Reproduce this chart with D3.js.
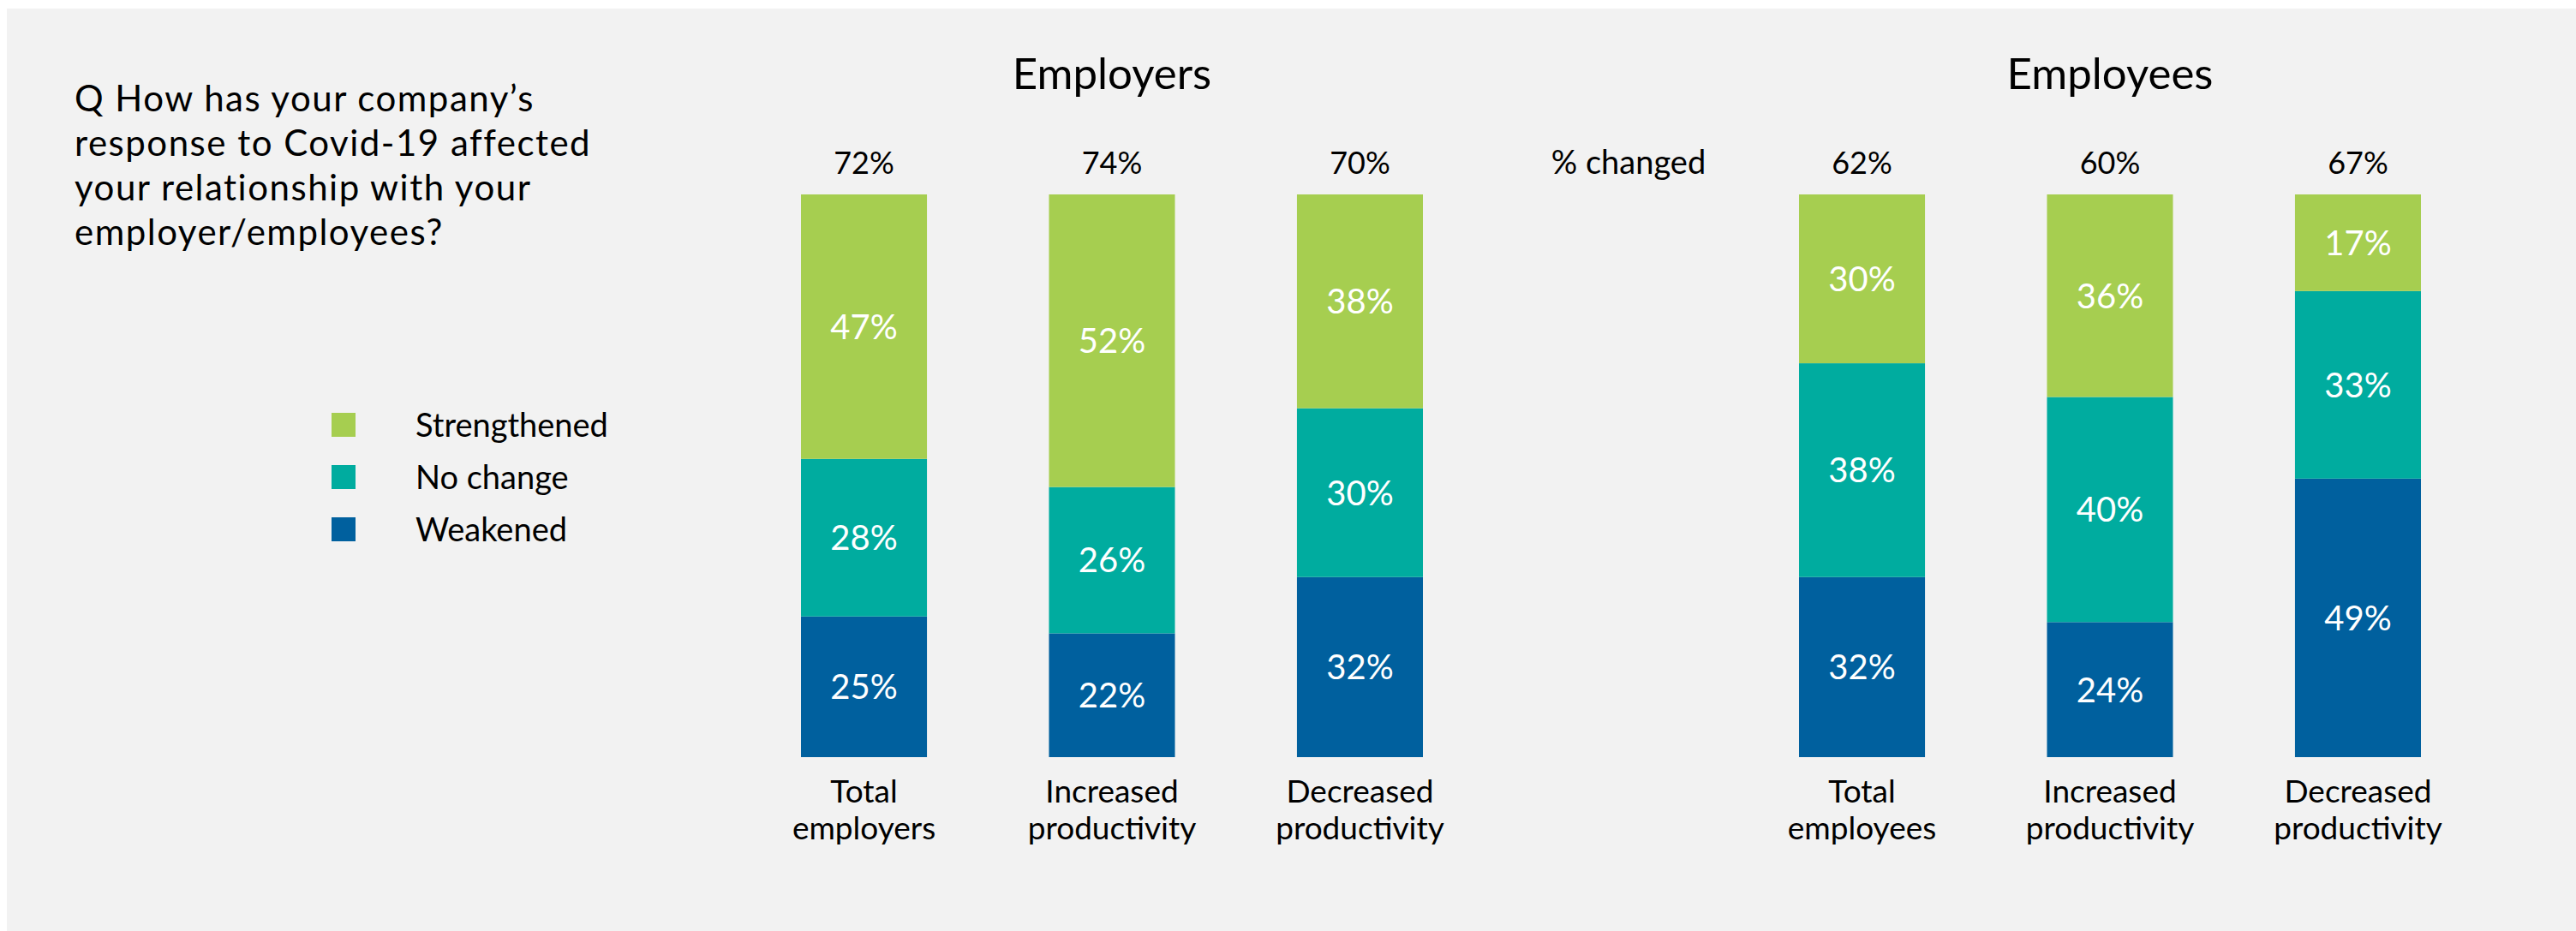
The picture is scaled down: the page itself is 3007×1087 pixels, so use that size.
<!DOCTYPE html>
<html>
<head>
<meta charset="utf-8">
<script src="https://cdn.jsdelivr.net/npm/d3@7"></script>
<style>
  html, body { margin: 0; padding: 0; background: #ffffff; }
  svg { display: block; }
  text { font-family: Lato, "Open Sans", sans-serif; fill: #000; }
</style>
</head>
<body>
<svg id="chart" width="3007" height="1087"></svg>
<script>
// ---- data ----
const questionLines = ["Q How has your company\u2019s", "response to Covid-19 affected", "your relationship with your", "employer/employees?"];
const seriesKeys = ["Weakened", "No change", "Strengthened"];           // stacked bottom -> top
const legendOrder = ["Strengthened", "No change", "Weakened"];
const seriesColors = ["#00609e", "#00ac9f", "#a6ce50"];

const employerCategories = [["Total", "employers"], ["Increased", "productivity"], ["Decreased", "productivity"]];
const employerStrengthened = [47, 52, 38];
const employerNoChange = [28, 26, 30];
const employerWeakened = [25, 22, 32];
const employerChanged = [72, 74, 70];

const employeeCategories = [["Total", "employees"], ["Increased", "productivity"], ["Decreased", "productivity"]];
const employeeStrengthened = [30, 36, 17];
const employeeNoChange = [38, 40, 33];
const employeeWeakened = [32, 24, 49];
const employeeChanged = [62, 60, 67];

const groupTitles = ["Employers", "Employees"];
const changedLabel = "% changed";

// ---- drawing ----
const svg = d3.select("#chart");
svg.append("rect").attr("x", 8).attr("y", 10).attr("width", 3007 - 8).attr("height", 1087 - 10).attr("fill", "#f2f2f2");

// question
const q = svg.append("text").attr("x", 87).attr("y", 130).style("font-size", "42px").style("letter-spacing", "1.5px");
questionLines.forEach((l, i) => q.append("tspan").attr("x", 87).attr("y", 130 + i * 52).text(l));

// legend
const color = d3.scaleOrdinal().domain(seriesKeys).range(seriesColors);
const leg = svg.append("g");
legendOrder.forEach((k, i) => {
  const y0 = 482 + i * 61;
  leg.append("rect").attr("x", 387).attr("y", y0).attr("width", 28).attr("height", 28).attr("fill", color(k));
  leg.append("text").attr("x", 485).attr("y", y0 + 28).style("font-size", "38px").text(k);
});

const y = d3.scaleLinear().domain([0, 1]).range([884, 227]);

function drawGroup(title, cats, strengthened, noChange, weakened, changed, x0, x1, showChangedLabel) {
  const rows = cats.map((c, i) => ({
    cat: c.join(" "), lines: c,
    "Strengthened": strengthened[i], "No change": noChange[i], "Weakened": weakened[i], changed: changed[i]
  }));
  const x = d3.scaleBand().domain(rows.map(r => r.cat)).range([x0, x1]).paddingInner(0.492).paddingOuter(0);
  const stacked = d3.stack().keys(seriesKeys).offset(d3.stackOffsetExpand)(rows);
  const g = svg.append("g");

  const layers = g.selectAll("g.layer").data(stacked).join("g").attr("fill", d => color(d.key));
  layers.selectAll("rect").data(d => d).join("rect")
    .attr("x", d => x(d.data.cat))
    .attr("width", x.bandwidth())
    .attr("y", d => y(d[1]))
    .attr("height", d => y(d[0]) - y(d[1]));

  stacked.forEach(layer => {
    g.selectAll(null).data(layer).join("text")
      .attr("x", d => x(d.data.cat) + x.bandwidth() / 2)
      .attr("y", d => (y(d[0]) + y(d[1])) / 2)
      .attr("dy", "0.36em")
      .attr("text-anchor", "middle")
      .style("font-size", "40px")
      .style("fill", "#ffffff")
      .text(d => d.data[layer.key] + "%");
  });

  // % changed values
  g.selectAll("text.chg").data(rows).join("text").attr("class", "chg")
    .attr("x", d => x(d.cat) + x.bandwidth() / 2)
    .attr("y", 203)
    .attr("text-anchor", "middle")
    .style("font-size", "36px")
    .text(d => d.changed + "%");

  // category labels
  const cl = g.selectAll("text.cat").data(rows).join("text").attr("class", "cat")
    .attr("text-anchor", "middle")
    .style("font-size", "37px");
  cl.each(function (d) {
    const t = d3.select(this);
    d.lines.forEach((l, i) => t.append("tspan")
      .attr("x", x(d.cat) + x.bandwidth() / 2)
      .attr("y", 937 + i * 43).text(l));
  });

  // title
  const mid = rows[1].cat;
  g.append("text").attr("x", x(mid) + x.bandwidth() / 2).attr("y", 104)
    .attr("text-anchor", "middle").style("font-size", "51px").text(title);

  if (showChangedLabel) {
    g.append("text").attr("x", 1901).attr("y", 203).attr("text-anchor", "middle")
      .style("font-size", "38px").text(changedLabel);
  }
}

drawGroup(groupTitles[0], employerCategories, employerStrengthened, employerNoChange, employerWeakened, employerChanged, 935, 1661, false);
drawGroup(groupTitles[1], employeeCategories, employeeStrengthened, employeeNoChange, employeeWeakened, employeeChanged, 2100, 2826, true);
</script>
</body>
</html>
